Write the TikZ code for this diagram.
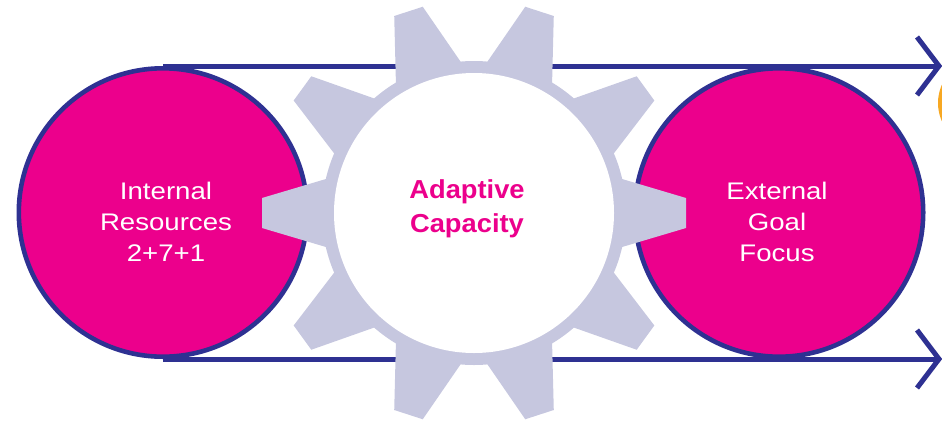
\documentclass[tikz,border=0pt]{standalone}
\usepackage{fontspec}
\setmainfont{Liberation Sans}
\newfontfamily\lblfont{Liberation Sans}[FakeStretch=1.15]
\newfontfamily\lblbold{Liberation Sans}[FakeStretch=1.05]
\usetikzlibrary{calc}
\definecolor{magentapink}{HTML}{EC008C}
\definecolor{beltnavy}{HTML}{2E3192}
\definecolor{gearlav}{HTML}{C6C7DF}
\definecolor{sunorange}{HTML}{F7A823}
\begin{document}
\begin{tikzpicture}[x=1pt,y=-1pt,
  disc/.style={circle, fill=magentapink, draw=beltnavy, line width=4.6pt,
    minimum size=288.4pt, inner sep=0pt},
  belt/.style={draw=beltnavy, line width=5pt},
  chevron/.style={draw=beltnavy, line width=5pt, line join=miter, line cap=butt},
  gearpart/.style={fill=gearlav},
  disclabel/.style={text=white, align=center,
    font=\lblfont\fontsize{24}{31}\selectfont},
  hublabel/.style={text=magentapink, align=center,
    font=\lblbold\bfseries\fontsize{26}{34}\selectfont}]
\useasboundingbox (0,0) rectangle (942,421);

% neighbouring orange disc, mostly beyond the right edge
\begin{scope}
  \clip (0,0) rectangle (942,421);
  \fill[sunorange] (983,103) circle (45);
\end{scope}

% the two pulleys
\node[disc] (inner) at (163,212.5) {};
\node[disc] (outer) at (779,212.5) {};

% belt lines with open arrow heads
\coordinate (topend) at (939,66);
\coordinate (botend) at (939,359);
\draw[belt] (inner.north) -- (topend);
\draw[belt] (inner.south) -- (botend);
\draw[chevron] ($(topend)+(-22,-29)$) -- (topend) -- ($(topend)+(-22,29)$);
\draw[chevron] ($(botend)+(-22,-29)$) -- (botend) -- ($(botend)+(-22,29)$);

% ten-toothed gear in the middle
\begin{scope}[shift={(474,213)}]
  \fill[gearpart] (0,0) circle (152);
  \foreach \a in {0,36,...,324}
    \fill[gearpart, rotate=\a] (138,-37) -- (212,-15) -- (212,15) -- (138,37) -- cycle;
  \fill[white] (0,0) circle (140);
\end{scope}

% labels
\node[disclabel] (innerlbl) at (166,222) {Internal\\Resources\\2+7+1};
\node[disclabel] (outerlbl) at (777,222) {External\\Goal\\Focus};
\node[hublabel] (hub) at (467,209) {Adaptive\\Capacity};
\end{tikzpicture}
\end{document}
